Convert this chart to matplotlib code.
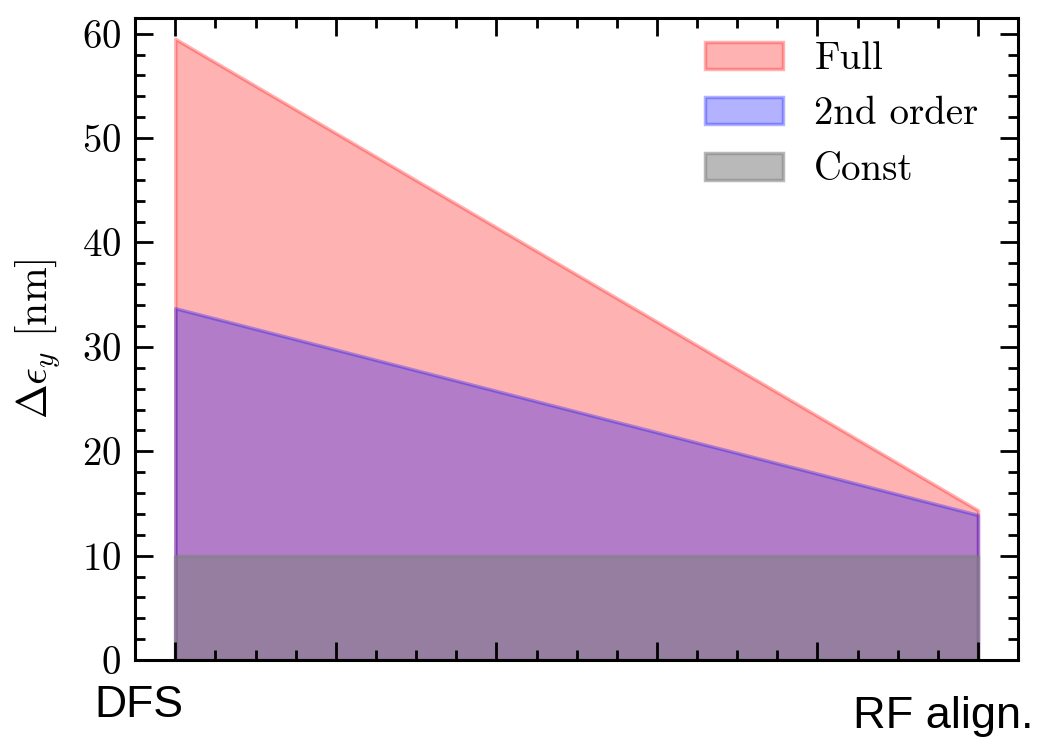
import matplotlib
matplotlib.use('Agg')
import matplotlib.pyplot as plt
from matplotlib.ticker import MultipleLocator

# stages along x, values in nm
stages = ['DFS', 'RF align.']
pos = [0, 1]
full = [59.5, 14.35]
second = [33.7, 13.9]
const = [10, 10]

plt.rcParams['font.family'] = 'serif'
plt.rcParams['font.serif'] = ['cmr10']
plt.rcParams['mathtext.fontset'] = 'cm'
plt.rcParams['axes.formatter.use_mathtext'] = True
plt.rcParams['font.size'] = 28

fig = plt.figure(figsize=(10.4, 7.4), dpi=100)
ax = fig.add_axes([0.13, 0.108, 0.849, 0.8677])

ax.fill_between(pos, 0, full, color='r', alpha=0.3, lw=2.5, label='Full')
ax.fill_between(pos, 0, second, color='b', alpha=0.3, lw=2.5, label='2nd order')
ax.fill_between(pos, 0, const, color='gray', alpha=0.55, lw=2.5, label='Const')

ax.set_ylim(0, 61.5)
ax.xaxis.set_major_locator(MultipleLocator(0.2))
ax.xaxis.set_minor_locator(MultipleLocator(0.05))
ax.yaxis.set_major_locator(MultipleLocator(10))
ax.yaxis.set_minor_locator(MultipleLocator(2))
ax.set_xticklabels([])
ax.tick_params(which='both', direction='in', top=True, right=True, width=2)
ax.tick_params(which='major', length=13)
ax.tick_params(which='minor', length=7)
ax.tick_params(axis='y', pad=10)
for s in ax.spines.values():
    s.set_linewidth(2.2)

ax.set_ylabel(r'$\Delta\epsilon_y$ [nm]', fontsize=30, labelpad=14)
ax.legend(loc='upper right', frameon=False, borderaxespad=0.3,
          bbox_to_anchor=(0.986, 1.006))

fig.text(0.1337, 0.0311, stages[0], family='Liberation Sans', fontsize=32,
         ha='center', va='baseline')
fig.text(0.9067, 0.0162, stages[1], family='Liberation Sans', fontsize=32.5,
         ha='center', va='baseline')

fig.savefig('out.png', dpi=100)
